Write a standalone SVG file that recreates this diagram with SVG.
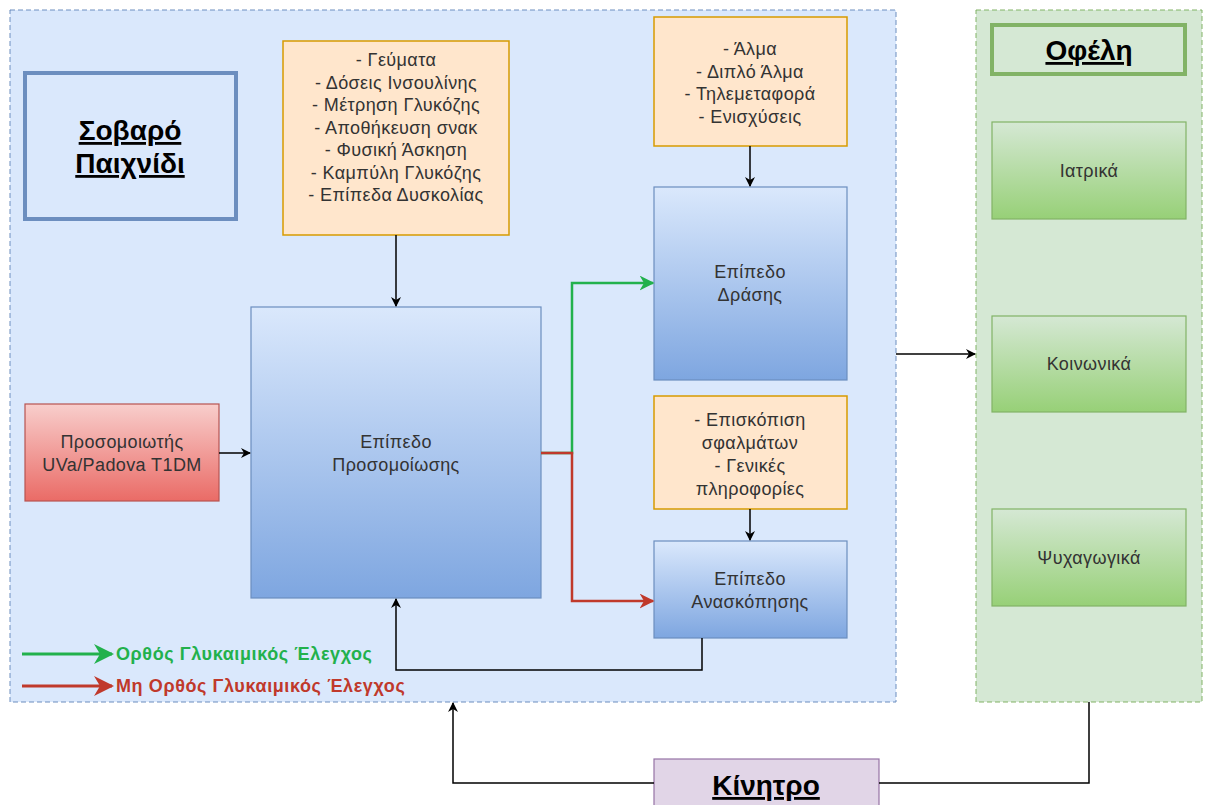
<svg xmlns="http://www.w3.org/2000/svg" width="1210" height="805" viewBox="0 0 1210 805">
  <defs>
    <linearGradient id="gBlue" x1="0" y1="0" x2="0" y2="1">
      <stop offset="0" stop-color="#dae8fc"/>
      <stop offset="1" stop-color="#7ea6e0"/>
    </linearGradient>
    <linearGradient id="gRed" x1="0" y1="0" x2="0" y2="1">
      <stop offset="0" stop-color="#f8cecc"/>
      <stop offset="1" stop-color="#ea6b66"/>
    </linearGradient>
    <linearGradient id="gGreen" x1="0" y1="0" x2="0" y2="1">
      <stop offset="0" stop-color="#d5e8d4"/>
      <stop offset="1" stop-color="#97d077"/>
    </linearGradient>
    <marker id="arrBlack" viewBox="0 0 10 10" refX="9" refY="5" markerWidth="10" markerHeight="10" markerUnits="userSpaceOnUse" orient="auto">
      <path d="M0,0 L10,5 L0,10 L3,5 Z" fill="#000"/>
    </marker>
    <marker id="arrGreen" viewBox="0 0 10 10" refX="9" refY="5" markerWidth="15" markerHeight="15" markerUnits="userSpaceOnUse" orient="auto">
      <path d="M0,0 L10,5 L0,10 L3,5 Z" fill="#22b14c"/>
    </marker>
    <marker id="arrRed" viewBox="0 0 10 10" refX="9" refY="5" markerWidth="15" markerHeight="15" markerUnits="userSpaceOnUse" orient="auto">
      <path d="M0,0 L10,5 L0,10 L3,5 Z" fill="#c0392b"/>
    </marker>
    <marker id="legGreen" viewBox="0 0 10 10" refX="9" refY="5" markerWidth="20" markerHeight="20" markerUnits="userSpaceOnUse" orient="auto">
      <path d="M0,0 L10,5 L0,10 L3,5 Z" fill="#22b14c"/>
    </marker>
    <marker id="legRed" viewBox="0 0 10 10" refX="9" refY="5" markerWidth="20" markerHeight="20" markerUnits="userSpaceOnUse" orient="auto">
      <path d="M0,0 L10,5 L0,10 L3,5 Z" fill="#c0392b"/>
    </marker>
  </defs>
  <style>
    text { font-family: "Liberation Sans", Arial, sans-serif; font-size: 18px; letter-spacing: 0.4px; fill: #333; text-anchor: middle; }
    .title { font-size: 28px; font-weight: bold; letter-spacing: 0; fill: #000; text-decoration: underline; }
    .container-blue { fill: #dae8fc; stroke: #6c8ebf; stroke-width: 1; stroke-dasharray: 5 3; }
    .container-green { fill: #d5e8d4; stroke: #82b366; stroke-width: 1; stroke-dasharray: 5 3; }
    .note { fill: #ffe6cc; stroke: #d79b00; stroke-width: 1.5; }
    .level { fill: url(#gBlue); stroke: #6c8ebf; stroke-width: 1.2; }
    .sim { fill: url(#gRed); stroke: #b85450; stroke-width: 1.2; }
    .benefit { fill: url(#gGreen); stroke: #82b366; stroke-width: 1.2; }
    .edge { fill: none; stroke: #000; stroke-width: 1.5; }
    .legend { text-anchor: start; font-size: 18px; font-weight: bold; letter-spacing: 0.6px; }
  </style>

  <!-- containers -->
  <g id="serious-game">
    <rect class="container-blue" x="10" y="10" width="886" height="692"/>
  </g>
  <g id="benefits">
    <rect class="container-green" x="976" y="10" width="226" height="692"/>
  </g>

  <!-- title blocks -->
  <g id="title-game">
    <rect x="25" y="73" width="211" height="146" fill="#dae8fc" stroke="#6c8ebf" stroke-width="4"/>
    <text class="title" x="130" y="140">Σοβαρό</text>
    <text class="title" x="130" y="173">Παιχνίδι</text>
  </g>
  <g id="title-benefits">
    <rect x="992" y="25" width="193" height="49" fill="#d5e8d4" stroke="#82b366" stroke-width="4"/>
    <text class="title" x="1089" y="60">Οφέλη</text>
  </g>

  <!-- notes -->
  <g id="note-simulation">
    <rect class="note" x="283" y="41" width="226" height="194"/>
    <text x="396" y="66">- Γεύματα</text>
    <text x="396" y="89">- Δόσεις Ινσουλίνης</text>
    <text x="396" y="111">- Μέτρηση Γλυκόζης</text>
    <text x="396" y="134">- Αποθήκευση σνακ</text>
    <text x="396" y="156">- Φυσική Άσκηση</text>
    <text x="396" y="179">- Καμπύλη Γλυκόζης</text>
    <text x="396" y="201">- Επίπεδα Δυσκολίας</text>
  </g>
  <g id="note-action">
    <rect class="note" x="654" y="17" width="193" height="129"/>
    <text x="750" y="55">- Άλμα</text>
    <text x="750" y="78">- Διπλό Άλμα</text>
    <text x="750" y="100">- Τηλεμεταφορά</text>
    <text x="750" y="123">- Ενισχύσεις</text>
  </g>
  <g id="note-review">
    <rect class="note" x="654" y="396" width="193" height="113"/>
    <text x="750" y="426">- Επισκόπιση</text>
    <text x="750" y="449">σφαλμάτων</text>
    <text x="750" y="472">- Γενικές</text>
    <text x="750" y="495">πληροφορίες</text>
  </g>

  <!-- levels -->
  <g id="level-simulation">
    <rect class="level" x="251" y="307" width="290" height="291"/>
    <text x="396" y="448">Επίπεδο</text>
    <text x="396" y="471">Προσομοίωσης</text>
  </g>
  <g id="level-action">
    <rect class="level" x="654" y="187" width="193" height="193"/>
    <text x="750" y="278">Επίπεδο</text>
    <text x="750" y="301">Δράσης</text>
  </g>
  <g id="level-review">
    <rect class="level" x="654" y="541" width="193" height="97"/>
    <text x="750" y="585">Επίπεδο</text>
    <text x="750" y="608">Ανασκόπησης</text>
  </g>
  <g id="simulator">
    <rect class="sim" x="25" y="404" width="194" height="97"/>
    <text x="122" y="448">Προσομοιωτής</text>
    <text x="122" y="471">UVa/Padova T1DM</text>
  </g>

  <!-- benefit items -->
  <g id="benefit-medical">
    <rect class="benefit" x="992" y="122" width="194" height="97"/>
    <text x="1089" y="177">Ιατρικά</text>
  </g>
  <g id="benefit-social">
    <rect class="benefit" x="992" y="316" width="194" height="96"/>
    <text x="1089" y="370">Κοινωνικά</text>
  </g>
  <g id="benefit-entertainment">
    <rect class="benefit" x="992" y="509" width="194" height="97"/>
    <text x="1089" y="564">Ψυχαγωγικά</text>
  </g>

  <!-- motivation -->
  <g id="motivation">
    <rect x="654" y="759" width="225" height="52" fill="#e1d5e7" stroke="#9673a6" stroke-width="1.2"/>
    <text class="title" x="766" y="795">Κίνητρο</text>
  </g>

  <!-- connectors -->
  <g id="connectors">
    <path class="edge" d="M396,235 L396,306" marker-end="url(#arrBlack)"/>
    <path class="edge" d="M750,146 L750,186" marker-end="url(#arrBlack)"/>
    <path class="edge" d="M750,509 L750,540" marker-end="url(#arrBlack)"/>
    <path class="edge" d="M219,453 L250,453" marker-end="url(#arrBlack)"/>
    <path class="edge" d="M702,638 L702,670 L396,670 L396,599" marker-end="url(#arrBlack)"/>
    <path class="edge" d="M896,354 L975,354" marker-end="url(#arrBlack)"/>
    <path class="edge" d="M654,783 L453,783 L453,703" marker-end="url(#arrBlack)"/>
    <path class="edge" d="M879,783 L1089,783 L1089,702"/>
    <path d="M541,453 L572,453 L572,283 L653,283" fill="none" stroke="#22b14c" stroke-width="2.5" marker-end="url(#arrGreen)"/>
    <path d="M541,453 L572,453 L572,601 L653,601" fill="none" stroke="#c0392b" stroke-width="2.5" marker-end="url(#arrRed)"/>
  </g>

  <!-- legend -->
  <g id="legend">
    <path d="M22,654 L112,654" stroke="#22b14c" stroke-width="3" marker-end="url(#legGreen)"/>
    <text class="legend" x="116" y="660" style="fill:#22b14c">Ορθός Γλυκαιμικός Έλεγχος</text>
    <path d="M22,686 L112,686" stroke="#c0392b" stroke-width="3" marker-end="url(#legRed)"/>
    <text class="legend" x="116" y="692" style="fill:#c0392b">Μη Ορθός Γλυκαιμικός Έλεγχος</text>
  </g>
</svg>
